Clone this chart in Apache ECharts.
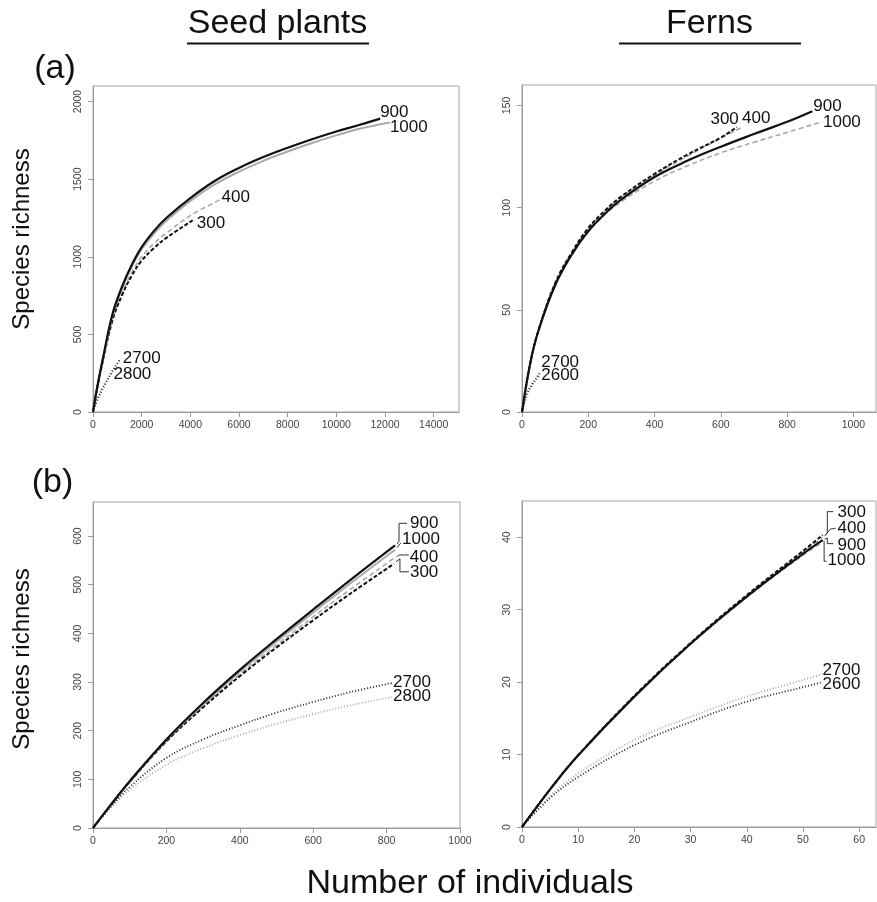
<!DOCTYPE html>
<html><head><meta charset="utf-8">
<script src="https://cdn.jsdelivr.net/npm/echarts@6/dist/echarts.min.js"></script>
<style>html,body{margin:0;padding:0;background:#fff}#c{width:877px;height:902px}</style>
</head><body><div id="c"></div>
<script>
const FONT = "'Liberation Sans', Arial, sans-serif";
const BLACK = '#111111', GREY = '#a9a9a9';

// ---------- tick labels ----------
const seedA_xTicks = [0,2000,4000,6000,8000,10000,12000,14000];
const seedA_yTicks = [0,500,1000,1500,2000];
const fernA_xTicks = [0,200,400,600,800,1000];
const fernA_yTicks = [0,50,100,150];
const seedB_xTicks = [0,200,400,600,800,1000];
const seedB_yTicks = [0,100,200,300,400,500,600];
const fernB_xTicks = [0,10,20,30,40,50,60];
const fernB_yTicks = [0,10,20,30,40];

// ---------- (a) Seed plants ----------
const seedA_900_n  = [0,150,400,800,1200,1600,2000,2500,3000,4000,5000,6000,7000,8000,9000,10000,11000,11800];
const seedA_900_s  = [0,140,340,630,810,950,1062,1165,1248,1378,1488,1572,1642,1702,1757,1807,1852,1890];
const seedA_1000_n = [0,150,400,800,1200,1600,2000,2500,3000,4000,5000,6000,7000,8000,9000,10000,11000,12200];
const seedA_1000_s = [0,140,335,620,800,938,1048,1148,1230,1360,1466,1548,1618,1678,1733,1782,1826,1865];
const seedA_400_n  = [0,150,400,800,1200,1600,2000,2500,3000,4000,5200];
const seedA_400_s  = [0,138,330,600,770,900,1000,1085,1150,1265,1365];
const seedA_300_n  = [0,150,400,800,1200,1600,2000,2500,3000,4100];
const seedA_300_s  = [0,136,325,590,755,880,975,1055,1120,1235];
const seedA_2700_n = [0,180,520,800,1100];
const seedA_2700_s = [0,80,185,265,335];
const seedA_2800_n = [0,150,400,600,800];
const seedA_2800_s = [0,65,160,210,252];

// ---------- (a) Ferns ----------
const fernA_900_n  = [0,25,50,100,150,200,250,300,400,500,600,700,800,876];
const fernA_900_s  = [0,24,40,62,77,88.5,97,104,115,123,129.8,136,142,147.2];
const fernA_1000_n = [0,25,50,100,150,200,250,300,400,500,600,700,800,905];
const fernA_1000_s = [0,24,40,62,77,88,96.5,103,113,120.5,126.8,132,136.8,142];
const fernA_300_n  = [0,25,50,100,150,200,250,300,400,500,600,648];
const fernA_300_s  = [0,24,40,63,78,90,98.5,105.5,116.5,126,134.3,139.4];
const fernA_400_n  = [0,25,50,100,150,200,250,300,400,500,600,667];
const fernA_400_s  = [0,24,40,63,78,89.5,98,105,115.8,125.3,134,139.6];
const fernA_2700_n = [0,15,30,45,55];
const fernA_2700_s = [0,9,13.5,17,19.5];
const fernA_2600_n = [0,15,30,45,55];
const fernA_2600_s = [0,8,12.5,16,18];

// ---------- (b) Seed plants ----------
const seedB_n      = [0,50,100,200,300,400,500,600,700];
const seedB_900_n  = seedB_n.concat([823]);
const seedB_900_s  = [0,49,96,182,257,325,388,449,509,581];
const seedB_1000_n = seedB_n.concat([823]);
const seedB_1000_s = [0,49,96,181,254,321,383,443,502,572];
const seedB_400_n  = seedB_n.concat([825]);
const seedB_400_s  = [0,49,95,179,251,316,376,434,490,557];
const seedB_300_n  = seedB_n.concat([820]);
const seedB_300_s  = [0,49,95,178,248,312,371,427,481,543];
const seedB_2700_n = seedB_n.concat([815]);
const seedB_2700_s = [0,45,84,144,182,211,237,259,279,298];
const seedB_2800_n = seedB_n.concat([815]);
const seedB_2800_s = [0,43,78,130,164,191,214,234,252,269];

// ---------- (b) Ferns ----------
const fernB_n      = [0,5,10,20,30,40,50,53.5];
const fernB_300_s  = [0,5.2,9.9,18.1,25.4,32.0,38.1,40.3];
const fernB_400_s  = [0,5.2,9.9,18.0,25.3,31.9,37.9,40.0];
const fernB_900_s  = [0,5.2,9.9,18.0,25.3,31.8,37.7,39.6];
const fernB_1000_s = [0,5.2,9.9,18.0,25.2,31.7,37.5,39.3];
const fernB_2700_s = [0,4.3,7.4,12.0,15.2,18.0,20.3,21.1];
const fernB_2600_s = [0,4.0,6.9,11.3,14.5,17.3,19.3,20.0];

// ---------- styles ----------
const STY = {
  solidBlack: {color: BLACK, width: 2.2, type: 'solid'},
  solidGrey:  {color: GREY,  width: 2.0, type: 'solid'},
  dashBlack:  {color: BLACK, width: 2.0, type: [4, 2]},
  dashGrey:   {color: GREY,  width: 1.6, type: [5, 3]},
  dotBlack:   {color: '#222', width: 1.8, type: [1, 2]},
  dotGrey:    {color: '#aaaaaa', width: 1.8, type: [1, 2]}
};

const panels = [
  { grid: {left: 93, top: 86, width: 366, height: 326}, xMax: 15040, yMax: 2100,
    xTicks: seedA_xTicks, yTicks: seedA_yTicks,
    curves: [
      {name: '2800', n: seedA_2800_n, s: seedA_2800_s, sty: 'dotGrey',   off: [1, 1]},
      {name: '2700', n: seedA_2700_n, s: seedA_2700_s, sty: 'dotBlack',  off: [3, -2]},
      {name: '400',  n: seedA_400_n,  s: seedA_400_s,  sty: 'dashGrey',  off: [2, -3]},
      {name: '300',  n: seedA_300_n,  s: seedA_300_s,  sty: 'dashBlack', off: [4, 3]},
      {name: '1000', n: seedA_1000_n, s: seedA_1000_s, sty: 'solidGrey', off: [0, 5]},
      {name: '900',  n: seedA_900_n,  s: seedA_900_s,  sty: 'solidBlack',off: [0, -6]}
    ]},
  { grid: {left: 522, top: 85, width: 354, height: 327}, xMax: 1068, yMax: 160,
    xTicks: fernA_xTicks, yTicks: fernA_yTicks,
    curves: [
      {name: '2600', n: fernA_2600_n, s: fernA_2600_s, sty: 'dotGrey',   off: [1, 0]},
      {name: '2700', n: fernA_2700_n, s: fernA_2700_s, sty: 'dotBlack',  off: [1, -10]},
      {name: '1000', n: fernA_1000_n, s: fernA_1000_s, sty: 'dashGrey',  off: [1, 1]},
      {name: '400',  n: fernA_400_n,  s: fernA_400_s,  sty: 'dashGrey',  off: [-1, -8]},
      {name: '300',  n: fernA_300_n,  s: fernA_300_s,  sty: 'dashBlack', off: [2, -8], align: 'right'},
      {name: '900',  n: fernA_900_n,  s: fernA_900_s,  sty: 'solidBlack',off: [1, -5]}
    ]},
  { grid: {left: 93, top: 502, width: 367, height: 326}, xMax: 1000, yMax: 670,
    xTicks: seedB_xTicks, yTicks: seedB_yTicks,
    curves: [
      {name: '2800', n: seedB_2800_n, s: seedB_2800_s, sty: 'dotGrey',   off: [1, -1]},
      {name: '2700', n: seedB_2700_n, s: seedB_2700_s, sty: 'dotBlack',  off: [1, -1]},
      {name: '400',  n: seedB_400_n,  s: seedB_400_s,  sty: 'dashGrey',  off: [14, 0],
        link: [[1,0],[3,-2],[13,-2]]},
      {name: '300',  n: seedB_300_n,  s: seedB_300_s,  sty: 'dashBlack', off: [16, 9],
        link: [[2,-2],[6,-5],[6,8],[15,8]]},
      {name: '1000', n: seedB_1000_n, s: seedB_1000_s, sty: 'solidGrey', off: [7, -10],
        link: [[2,-2],[6,-7]]},
      {name: '900',  n: seedB_900_n,  s: seedB_900_s,  sty: 'solidBlack',off: [15, -22],
        link: [[2,-1],[4,-4],[4,-22],[12,-22]]}
    ]},
  { grid: {left: 522, top: 501, width: 354, height: 326}, xMax: 63, yMax: 45,
    xTicks: fernB_xTicks, yTicks: fernB_yTicks,
    curves: [
      {name: '2700', n: fernB_n, s: fernB_2700_s, sty: 'dotGrey',   off: [0, -4]},
      {name: '2600', n: fernB_n, s: fernB_2600_s, sty: 'dotBlack',  off: [0, 2]},
      {name: '1000', n: fernB_n, s: fernB_1000_s, sty: 'dashGrey',  off: [5, 18],
        link: [[1,-1],[1.5,-1],[1.5,19],[4,19]]},
      {name: '400',  n: fernB_n, s: fernB_400_s,  sty: 'dashGrey',  off: [15, -9],
        link: [[2,-1],[7.5,-8],[13,-9]]},
      {name: '300',  n: fernB_n, s: fernB_300_s,  sty: 'dashBlack', off: [15, -23],
        link: [[3,-1],[4.7,-2],[4.7,-23.4],[10.7,-23.4]]},
      {name: '900',  n: fernB_n, s: fernB_900_s,  sty: 'solidBlack',off: [15, 5],
        link: [[2,-1],[4.7,-2],[4.7,3.5],[10.7,3.5]]}
    ]}
];

const axisLineStyle = {color: '#9a9a9a', width: 1};
const plain = v => String(v);
const grids = [], xAxes = [], yAxes = [], series = [];
panels.forEach((p, i) => {
  grids.push(Object.assign({show: true, borderColor: '#a6a6a6', borderWidth: 1,
    backgroundColor: 'transparent', containLabel: false, outerBoundsMode: 'none'}, p.grid));
  xAxes.push({type: 'value', gridIndex: i, min: 0, max: p.xMax,
    axisLine: {show: true, onZero: false, lineStyle: axisLineStyle},
    axisTick: {show: true, length: 5, lineStyle: axisLineStyle, customValues: p.xTicks},
    axisLabel: {show: true, customValues: p.xTicks, formatter: plain, color: '#444', fontSize: 10.5, fontFamily: FONT, margin: 8, hideOverlap: false},
    splitLine: {show: false}});
  yAxes.push({type: 'value', gridIndex: i, min: 0, max: p.yMax,
    axisLine: {show: true, onZero: false, lineStyle: axisLineStyle},
    axisTick: {show: true, length: 5, lineStyle: axisLineStyle, customValues: p.yTicks},
    axisLabel: {show: true, customValues: p.yTicks, formatter: plain, color: '#444', fontSize: 10.5, fontFamily: FONT, margin: 9, rotate: 90, hideOverlap: false},
    splitLine: {show: false}});
  p.curves.forEach(c => {
    series.push({
      type: 'line', name: c.name, xAxisIndex: i, yAxisIndex: i,
      data: c.n.map((v, k) => [v, c.s[k]]),
      showSymbol: false, symbol: 'none', smooth: 0.4,
      lineStyle: STY[c.sty], silent: true, clip: false,
      endLabel: {show: true, formatter: () => c.name, distance: 0, offset: c.off,
        align: c.align || 'left', verticalAlign: 'middle',
        fontSize: 17, color: BLACK, fontFamily: FONT}
    });
  });
});

const chart = echarts.init(document.getElementById('c'), null, {renderer: 'canvas'});
chart.setOption({
  animation: false, backgroundColor: '#ffffff',
  grid: grids, xAxis: xAxes, yAxis: yAxes, series: series
});

const G = [];
function txt(text, x, y, size, rot) {
  G.push({type: 'text', x: x, y: y, rotation: rot || 0, silent: true,
    style: {text: text, fontSize: size, fontFamily: FONT, fill: BLACK, align: 'center', verticalAlign: 'middle'}});
}
function seg(x1, y1, x2, y2, w) {
  G.push({type: 'line', silent: true, shape: {x1, y1, x2, y2}, style: {stroke: BLACK, lineWidth: w}});
}
txt('Seed plants', 277.5, 24, 34);
seg(187, 43.5, 369, 43.5, 2);
txt('Ferns', 709.5, 24, 34);
seg(619, 43.5, 801, 43.5, 2);
txt('(a)', 55, 69, 34);
txt('(b)', 52.5, 483, 34);
txt('Species richness', 22, 239, 24, Math.PI / 2);
txt('Species richness', 22, 659, 24, Math.PI / 2);
txt('Number of individuals', 470, 884, 34);

// bracket connectors from curve ends to their labels
panels.forEach((p, i) => {
  p.curves.forEach(c => {
    if (!c.link) return;
    const last = c.n.length - 1;
    const e = chart.convertToPixel({xAxisIndex: i, yAxisIndex: i}, [c.n[last], c.s[last]]);
    G.push({type: 'polyline', silent: true,
      shape: {points: c.link.map(d => [e[0] + d[0], e[1] + d[1]])},
      style: {stroke: '#333', lineWidth: 1, fill: null}});
  });
});
chart.setOption({graphic: {elements: G}});
</script></body></html>
